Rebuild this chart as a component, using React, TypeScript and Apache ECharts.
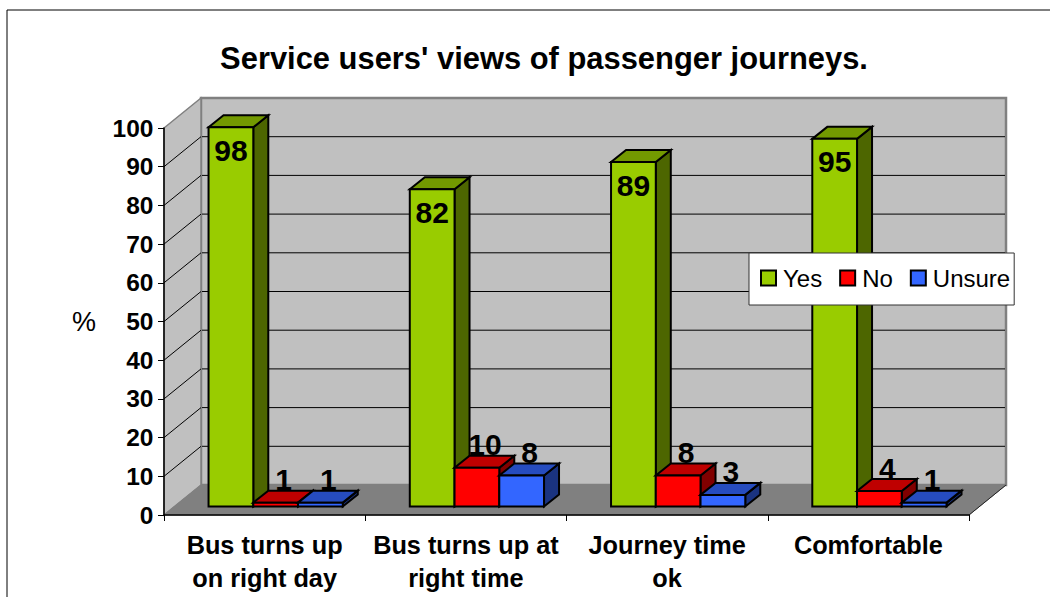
import React, { useEffect, useRef } from "react";
import * as echarts from "echarts";

const titleText = "Service users' views of passenger journeys.";
const categories = ["Bus turns up\non right day", "Bus turns up at\nright time", "Journey time\nok", "Comfortable"];
const yesValues = [98, 82, 89, 95];
const noValues = [1, 10, 8, 4];
const unsureValues = [1, 8, 3, 1];
const valueTicks = [0, 10, 20, 30, 40, 50, 60, 70, 80, 90, 100];

const FONT = "'Liberation Sans', Arial, sans-serif";
const WALL_DX = 37;
const WALL_DY = -30;
const BAR_DX = 15;
const BAR_DY = -12;
const OFFSET_DX = 11;
const OFFSET_DY = -8.5;

const palette = {
  yes: { front: "#99CC00", top: "#739900", side: "#4D6600" },
  no: { front: "#FF0000", top: "#BF0000", side: "#800000" },
  unsure: { front: "#3366FF", top: "#264CBF", side: "#1A3380" },
};

function wallsRenderer(_params: any, api: any) {
  const bandW = api.size([1, 0])[0];
  const first = api.coord([0, 0]);
  const left = first[0] - bandW / 2;
  const right = left + bandW * categories.length;
  const yAt = (v: number) => api.coord([0, v])[1];
  const y0 = yAt(0);
  const y100 = yAt(100);
  const poly = (points: number[][], fill: string, stroke: string, lineWidth: number) => ({
    type: "polygon",
    shape: { points },
    style: { fill, stroke, lineWidth },
  });
  const line = (x1: number, y1: number, x2: number, y2: number, stroke: string, lineWidth = 1) => ({
    type: "line",
    shape: { x1, y1, x2, y2 },
    style: { stroke, lineWidth },
  });
  const children: any[] = [
    poly([[left + WALL_DX, y100 + WALL_DY], [right + WALL_DX, y100 + WALL_DY], [right + WALL_DX, y0 + WALL_DY], [left + WALL_DX, y0 + WALL_DY]], "#C0C0C0", "#808080", 2.5),
    poly([[left, y100], [left + WALL_DX, y100 + WALL_DY], [left + WALL_DX, y0 + WALL_DY], [left, y0]], "#C0C0C0", "#808080", 1.5),
  ];
  valueTicks.filter((v) => v > 0 && v < 100).forEach((v) => {
    const y = yAt(v);
    children.push(line(left, y, left + WALL_DX, y + WALL_DY, "#000000", 1));
    children.push(line(left + WALL_DX + 1, y + WALL_DY, right + WALL_DX - 1, y + WALL_DY, "#000000", 1));
  });
  children.push(poly([[left, y0], [right, y0], [right + WALL_DX, y0 + WALL_DY], [left + WALL_DX, y0 + WALL_DY]], "#808080", "#808080", 1));
  children.push(line(right, y0, right + WALL_DX, y0 + WALL_DY, "#222222", 1));
  return { type: "group", children };
}

function barRenderer(seriesIndex: number, colors: { front: string; top: string; side: string }) {
  return (_params: any, api: any) => {
    const cat = api.value(0);
    const val = api.value(1);
    const bandW = api.size([1, 0])[0];
    const w = (bandW * 0.667) / 3;
    const c = api.coord([cat, val]);
    const base = api.coord([cat, 0]);
    const x0 = c[0] - bandW / 2 + bandW / 6 + OFFSET_DX + seriesIndex * w;
    const x1 = x0 + w;
    const yt = c[1] + OFFSET_DY;
    const yb = base[1] + OFFSET_DY;
    const edge = { stroke: "#000000", lineWidth: 2, lineJoin: "miter" };
    const tall = val > 50;
    const labelX = (x0 + x1) / 2 + (tall ? 0 : 8);
    const labelY = yt + (tall ? 23 : -23);
    return {
      type: "group",
      children: [
        { type: "polygon", shape: { points: [[x1, yt], [x1 + BAR_DX, yt + BAR_DY], [x1 + BAR_DX, yb + BAR_DY], [x1, yb]] }, style: { fill: colors.side, ...edge } },
        { type: "polygon", shape: { points: [[x0, yt], [x0 + BAR_DX, yt + BAR_DY], [x1 + BAR_DX, yt + BAR_DY], [x1, yt]] }, style: { fill: colors.top, ...edge } },
        { type: "polygon", shape: { points: [[x0, yt], [x1, yt], [x1, yb], [x0, yb]] }, style: { fill: colors.front, ...edge } },
        { type: "text", z2: 10, style: { text: String(val), x: labelX, y: labelY, fill: "#000000", align: "center", verticalAlign: "middle", font: `bold 30px ${FONT}` } },
      ],
    };
  };
}

const toRows = (values: number[]) => values.map((v, i) => [i, v]);

export default function App() {
  const ref = useRef<HTMLDivElement>(null);
  useEffect(() => {
    const chart = echarts.init(ref.current!, undefined, { renderer: "svg" });
    chart.setOption({
      animation: false,
      backgroundColor: "#FFFFFF",
      title: {
        text: titleText,
        left: 539,
        top: 38,
        textAlign: "center",
        textStyle: { fontFamily: FONT, fontWeight: "bold", fontSize: 30.9, color: "#000000" },
      },
      legend: {
        left: 749,
        top: 253,
        orient: "horizontal",
        data: ["Yes", "No", "Unsure"],
        icon: "rect",
        itemWidth: 15,
        itemHeight: 15,
        itemGap: 17,
        padding: [13, 4, 15, 11],
        backgroundColor: "#FFFFFF",
        borderColor: "#333333",
        borderWidth: 1,
        z: 10,
        textStyle: { fontFamily: FONT, fontSize: 24, color: "#000000", padding: [0, 0, 0, 2] },
        itemStyle: { borderColor: "#000000", borderWidth: 2 },
      },
      grid: { left: 164, right: 81, top: 128, height: 387 },
      xAxis: {
        type: "category",
        data: categories,
        z: 2,
        axisLine: { show: true, lineStyle: { color: "#000000", width: 1.5 } },
        axisTick: { show: true, alignWithLabel: false, length: 6, lineStyle: { color: "#000000", width: 1 } },
        axisLabel: { fontFamily: FONT, fontWeight: "bold", fontSize: 25.3, color: "#000000", lineHeight: 33, margin: 13, interval: 0 },
      },
      yAxis: {
        type: "value",
        min: 0,
        max: 100,
        interval: 10,
        z: 2,
        name: "%",
        nameLocation: "middle",
        nameGap: 68,
        nameRotate: 0,
        nameTextStyle: { fontFamily: FONT, fontSize: 27, color: "#000000" },
        axisLine: { show: true, lineStyle: { color: "#000000", width: 1.5 } },
        axisTick: { show: true, length: 6, lineStyle: { color: "#000000", width: 1 } },
        axisLabel: { fontFamily: FONT, fontWeight: "bold", fontSize: 24.5, color: "#000000", margin: 10.5 },
        splitLine: { show: false },
      },
      series: [
        { type: "custom", name: "walls", z: 1, silent: true, renderItem: wallsRenderer, data: [[0, 0]], encode: { x: 0, y: 1 } },
        { type: "custom", name: "Yes", z: 3, renderItem: barRenderer(0, palette.yes), data: toRows(yesValues), encode: { x: 0, y: 1 }, itemStyle: { color: palette.yes.front } },
        { type: "custom", name: "No", z: 4, renderItem: barRenderer(1, palette.no), data: toRows(noValues), encode: { x: 0, y: 1 }, itemStyle: { color: palette.no.front } },
        { type: "custom", name: "Unsure", z: 5, renderItem: barRenderer(2, palette.unsure), data: toRows(unsureValues), encode: { x: 0, y: 1 }, itemStyle: { color: palette.unsure.front } },
      ],
      graphic: [
        { type: "rect", z: -10, silent: true, shape: { x: 7, y: 10, width: 1060, height: 610 }, style: { fill: "transparent", stroke: "#000000", lineWidth: 1 } },
      ],
    });
    return () => chart.dispose();
  }, []);
  return <div ref={ref} style={{ position: "absolute", left: 0, top: 0, width: 1050, height: 597 }} />;
}
